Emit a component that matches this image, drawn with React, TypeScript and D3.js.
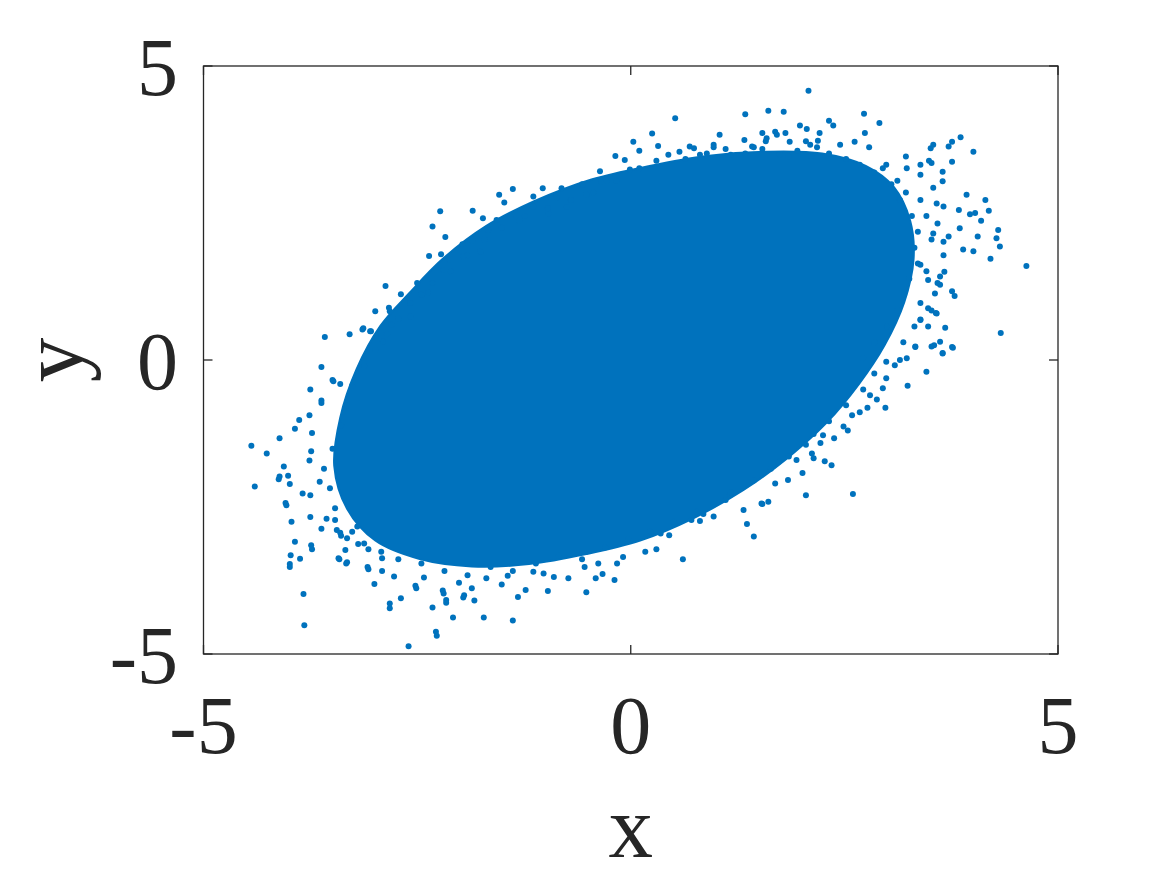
import React from "react";
import * as d3 from "d3";

const xTicks = [-5, 0, 5];
const yTicks = [-5, 0, 5];
const xLabel = "x";
const yLabel = "y";

// Boundary of the visually saturated core of the cloud
const coreBoundary: [number, number][] = [
  [-3.47, -1.8], [-3.4, -0.98], [-3.21, -0.16], [-2.93, 0.58], [-2.59, 1.14],
  [-2.2, 1.72], [-1.69, 2.28], [-1.13, 2.7], [-0.46, 3.07], [0.22, 3.3],
  [0.89, 3.47], [1.56, 3.54], [2.24, 3.51], [2.75, 3.3], [3.08, 2.94],
  [3.27, 2.37], [3.31, 1.72], [3.2, 0.98], [2.97, 0.25], [2.67, -0.41],
  [2.29, -1.07], [1.84, -1.66], [1.32, -2.21], [0.72, -2.7], [0.11, -3.07],
  [-0.52, -3.3], [-1.19, -3.47], [-1.86, -3.51], [-2.48, -3.38], [-2.99, -3.07],
  [-3.32, -2.53],
];

// Individual points outside the saturated core (fringe and outliers)
const fringePoints: [number, number][] = [
  [2.08, 4.58], [0.52, 4.11], [1.34, 4.18], [1.61, 4.24], [1.79, 4.22], [2.73, 4.19],
  [2.91, 4.03], [2.32, 4.07], [2.37, 3.99], [1.98, 3.99], [2.21, 3.86], [2.74, 3.86],
  [1.04, 3.83], [0.25, 3.85], [3.86, 3.79], [3.76, 3.71], [4.01, 3.54], [3.54, 3.66],
  [3.51, 3.6], [3.22, 3.46], [3.39, 3.32], [3.49, 3.39], [3.93, 2.81], [4.15, 2.72],
  [4.19, 2.54], [4.03, 2.5], [3.84, 2.55], [4.1, 2.37], [4.3, 2.21], [4.06, 2.1],
  [4.32, 1.93], [3.89, 1.88], [4.01, 1.85], [4.21, 1.72], [4.63, 1.6], [4.33, 0.46],
  [3.46, -0.2], [3.24, -0.44], [3.76, 0.22], [3.65, 0.11], [3.55, 0.25], [3.68, 0.55],
  [3.76, 1.17], [3.79, 1.09], [2.6, -2.28], [2.05, -2.3], [1.44, -3.0], [1.36, -2.79],
  [0.61, -3.39], [0.3, -3.22], [0.17, -3.26], [-0.19, -3.74], [-0.52, -3.95], [-0.97, -3.93],
  [-1.23, -3.91], [-1.32, -4.03], [-1.38, -4.43], [-1.72, -4.38], [-2.08, -4.38], [-2.28, -4.62],
  [-2.32, -4.21], [-2.16, -4.08], [-2.6, -4.87], [-2.69, -4.05], [-2.82, -4.14], [-2.52, -3.84],
  [-3.0, -3.81], [-3.82, -4.51], [-3.83, -3.98], [-3.99, -3.47], [-3.98, -3.32], [-3.87, -3.38],
  [-3.74, -3.15], [-3.93, -3.09], [-3.97, -2.75], [-4.04, -2.43], [-4.4, -2.15], [-4.44, -1.46],
  [-4.26, -1.59], [-4.11, -1.33], [-4.11, -1.98], [-3.99, -2.11], [-4.06, -1.81], [-3.88, -1.02],
  [-3.75, -0.5], [-3.62, -0.12], [-3.58, 0.39], [-3.29, 0.44], [-2.87, 1.26], [-2.5, 1.31],
  [-2.99, 0.83], [-3.13, 0.54], [-2.36, 1.77], [-2.23, 2.53], [-2.32, 2.27], [-2.17, 2.09],
  [-1.97, 1.97], [-1.85, 2.54], [-1.54, 2.81], [-1.38, 2.91], [-1.03, 2.92], [-0.81, 2.92],
  [-0.57, 2.99], [-0.34, 3.03], [-0.18, 3.47], [0.03, 3.71], [0.1, 3.56], [-3.49, -0.34],
  [-3.62, -0.69], [-3.76, -1.71], [-3.93, -1.17], [-3.39, -2.99], [-3.32, -3.44], [-3.46, -2.72],
  [2.98, -0.81], [2.35, -1.79], [2.22, -1.41], [2.01, -1.92], [2.68, -0.89], [2.77, -0.81],
  [2.88, -0.67], [2.54, -1.2], [2.38, -1.33], [2.27, -1.72], [1.84, -2.04], [1.61, -2.41],
  [2.95, -0.48], [3.33, 0.22], [3.65, 0.12], [3.77, 0.21], [3.62, 0.31], [3.52, 0.23],
  [3.57, 0.8], [3.62, 1.28], [3.39, 0.69], [3.23, 0.03], [3.15, 0.0], [3.09, -0.09],
  [2.99, -0.31], [2.8, -0.6], [2.59, -0.94], [2.49, -1.13], [2.14, -1.26], [2.12, -1.59],
  [1.94, -1.7], [1.73, -1.73], [1.69, -2.1], [1.53, -2.44], [1.54, -2.45], [0.97, -2.66],
  [0.81, -2.74], [1.32, -2.55], [-2.16, -4.13], [-1.83, -4.09], [-1.95, -4.0], [-3.08, -3.52],
  [-2.2, -3.92], [-2.01, -3.79], [-1.86, -3.88], [-1.51, -3.82], [-2.42, -3.7], [-2.77, -3.68],
  [-2.91, -3.59], [-1.69, -3.71], [-1.44, -3.67], [-0.73, -3.71], [-0.41, -3.71], [-0.33, -3.64],
  [-0.9, -3.69], [-0.54, -3.52], [-0.16, -3.46], [-0.09, -3.35], [-0.38, -3.46], [-1.14, -3.6],
  [-1.02, -3.63], [2.14, -1.67], [1.16, -2.3], [1.11, -2.38], [0.85, -2.62], [0.45, -2.98],
  [0.35, -2.95], [0.19, -2.98], [0.51, -2.78], [0.71, -2.72], [-3.33, -3.46], [-3.42, -3.37],
  [-3.34, -3.23], [-3.44, -2.89], [-3.2, -2.83], [-3.32, -3.03], [0.32, 3.64], [-0.07, 3.4],
  [-0.01, 3.24], [-0.36, 3.21], [-1.48, 2.68], [-1.14, 2.78], [-0.56, 2.98], [-0.28, 3.05],
  [-0.52, 2.81], [-2.22, 1.8], [-1.85, 2.03], [-1.73, 2.41], [-1.57, 2.38], [-1.67, 2.21],
  [-1.41, 2.43], [-1.3, 2.37], [-1.14, 2.61], [-0.96, 2.49], [-0.87, 2.76], [-0.75, 2.6],
  [-2.83, 0.89], [-2.69, 1.12], [-3.04, 0.49], [-2.37, 1.15], [-2.19, 1.53], [-2.12, 1.7],
  [-1.96, 1.76], [-1.76, 1.84], [-2.58, 0.74], [-2.8, 0.6], [-2.9, 0.31], [-2.93, 0.45],
  [2.06, 3.93], [1.54, 3.86], [1.81, 3.86], [1.33, 3.74], [1.59, 3.77], [1.69, 3.88],
  [1.86, 3.71], [2.1, 3.66], [2.19, 3.73], [1.42, 3.63], [0.97, 3.66], [0.69, 3.63],
  [3.72, 3.63], [3.76, 3.37], [3.52, 3.35], [3.65, 3.2], [3.65, 3.04], [3.54, 2.93],
  [3.39, 3.15], [3.23, 3.26], [3.97, 2.48], [4.28, 2.07], [3.85, 2.24], [3.72, 2.1],
  [3.66, 2.01], [3.54, 2.15], [3.66, 2.61], [3.58, 2.66], [3.67, 1.5], [3.62, 1.42],
  [3.39, 1.62], [3.48, 1.36], [3.56, 1.13], [3.48, 0.88], [3.58, 0.79], [3.39, 0.68],
  [3.48, 0.57], [3.33, 0.23], [-4.12, -2.03], [-4.01, -1.97], [-4.03, -2.47], [-3.99, -3.52],
  [-3.76, -0.94], [-3.14, 0.52], [-3.05, 0.49], [-2.82, 0.83], [-3.48, -0.36], [-3.4, -0.41],
  [-3.62, -0.73], [-3.73, -1.24], [-3.74, -1.55], [-3.64, -2.07], [-3.75, -2.3], [-3.84, -2.27],
  [-3.75, -2.67], [-3.73, -3.22], [-3.62, -2.87], [-3.56, -2.7], [-3.4, -2.94], [-3.41, -3.39],
  [-3.07, -3.56], [-2.82, -4.22], [-2.27, -4.69], [-2.19, -3.97], [-2.51, -3.88], [-1.96, -4.04],
  [-2.91, -3.37], [-3.07, -3.22], [-3.19, -3.13],
  [0.44, 3.49], [0.57, 3.54], [0.74, 3.6], [0.81, 3.49], [0.97, 3.62], [1.17, 3.49],
  [1.44, 3.62], [1.58, 3.72], [1.71, 3.83], [1.85, 3.46], [2.05, 3.72], [2.18, 3.62],
  [2.45, 3.66], [2.62, 3.71], [2.79, 3.62], [2.99, 3.32], [3.12, 3.05], [2.95, 3.26],
  [3.22, 2.85], [3.39, 2.72], [3.46, 2.45], [3.59, 2.32], [3.52, 2.05], [3.66, 1.78],
  [3.46, 1.51], [3.59, 1.31], [3.39, 0.97], [3.52, 0.84], [3.32, 0.57], [3.19, 0.3],
  [2.99, -0.03], [2.85, -0.23], [2.72, -0.5], [2.52, -0.77], [2.32, -1.04], [2.25, -1.28],
  [2.05, -1.44], [1.85, -1.64], [1.64, -1.85], [1.44, -2.05], [1.17, -2.25], [0.97, -2.45],
  [0.77, -2.58], [0.5, -2.75], [0.23, -2.92], [-0.03, -3.05], [-0.3, -3.19], [-0.57, -3.39],
  [-0.84, -3.32], [-1.11, -3.46], [-1.38, -3.59], [-1.64, -3.52], [-1.91, -3.66], [-2.18, -3.59],
  [-2.45, -3.46], [-2.72, -3.39], [-2.92, -3.26], [-3.12, -3.12], [-3.26, -2.92], [-3.46, -2.52],
  [-3.52, -2.18], [-3.59, -1.85], [-3.49, -1.51], [-3.39, -1.11], [-3.32, -0.77], [-3.26, -0.44],
  [-3.12, -0.1], [-2.99, 0.17], [-2.85, 0.44], [-2.72, 0.7], [-2.58, 0.97], [-2.45, 1.11],
  [-2.32, 1.31], [-2.11, 1.51], [-1.91, 1.78], [-1.71, 2.05], [-1.51, 2.25], [-1.24, 2.45],
  [-0.97, 2.58], [-0.7, 2.72], [-0.44, 2.85], [-0.17, 3.05], [0.1, 3.26], [0.3, 3.39],
  [0.64, 3.42], [0.89, 3.51], [1.11, 3.59], [1.34, 3.51], [1.54, 3.59], [1.74, 3.49],
  [1.95, 3.56], [2.11, 3.47], [2.32, 3.51], [2.52, 3.42], [2.68, 3.32], [2.85, 3.19],
  [3.05, 2.99], [3.15, 2.72], [3.29, 2.45], [3.36, 2.18], [3.32, 1.91], [3.36, 1.64],
  [3.26, 1.38], [3.2, 1.11], [3.12, 0.84], [3.0, 0.57], [2.85, 0.3], [2.72, 0.03],
];

const W = 1167;
const H = 875;
const BLUE = "#0072BD";
const AXIS = "#262626";
const FONT = "Times New Roman, Liberation Serif, serif";

export default function App() {
  const x = d3.scaleLinear().domain([-5, 5]).range([203.5, 1058]);
  const y = d3.scaleLinear().domain([-5, 5]).range([654, 66]);
  const [x0, x1] = x.range();
  const [y0, y1] = [y(5), y(-5)];

  const corePath =
    d3
      .line<[number, number]>()
      .x((d) => x(d[0]))
      .y((d) => y(d[1]))
      .curve(d3.curveCatmullRomClosed.alpha(0.5))(coreBoundary) || "";

  const tickLen = 9;

  return (
    <svg
      width={W}
      height={H}
      style={{ position: "absolute", left: 0, top: 0, background: "#fff" }}
    >
      <rect x={0} y={0} width={W} height={H} fill="#fff" />
      <g>
        <path d={corePath} fill={BLUE} stroke={BLUE} strokeWidth={2} />
        {fringePoints.map((d, i) => (
          <circle key={i} cx={x(d[0])} cy={y(d[1])} r={3} fill={BLUE} />
        ))}
      </g>
      <rect
        x={x0}
        y={y0}
        width={x1 - x0}
        height={y1 - y0}
        fill="none"
        stroke={AXIS}
        strokeWidth={1.3}
      />
      {xTicks.map((t) => (
        <g key={"xt" + t}>
          <line x1={x(t)} x2={x(t)} y1={y1} y2={y1 - tickLen} stroke={AXIS} strokeWidth={1.3} />
          <line x1={x(t)} x2={x(t)} y1={y0} y2={y0 + tickLen} stroke={AXIS} strokeWidth={1.3} />
          <text
            x={x(t)}
            y={y1 + 99}
            textAnchor="middle"
            style={{ fontFamily: FONT }}
            fontSize={82}
            fill={AXIS}
          >
            {t}
          </text>
        </g>
      ))}
      {yTicks.map((t) => (
        <g key={"yt" + t}>
          <line x1={x0} x2={x0 + tickLen} y1={y(t)} y2={y(t)} stroke={AXIS} strokeWidth={1.3} />
          <line x1={x1} x2={x1 - tickLen} y1={y(t)} y2={y(t)} stroke={AXIS} strokeWidth={1.3} />
          <text
            x={178}
            y={y(t) + 29}
            textAnchor="end"
            style={{ fontFamily: FONT }}
            fontSize={82}
            fill={AXIS}
          >
            {t}
          </text>
        </g>
      ))}
      <text
        x={(x0 + x1) / 2}
        y={857}
        textAnchor="middle"
        style={{ fontFamily: FONT }}
        fontSize={89}
        fill={AXIS}
      >
        {xLabel}
      </text>
      <text
        transform={`translate(82, ${(y0 + y1) / 2}) rotate(-90)`}
        textAnchor="middle"
        style={{ fontFamily: FONT }}
        fontSize={89}
        fill={AXIS}
      >
        {yLabel}
      </text>
    </svg>
  );
}
